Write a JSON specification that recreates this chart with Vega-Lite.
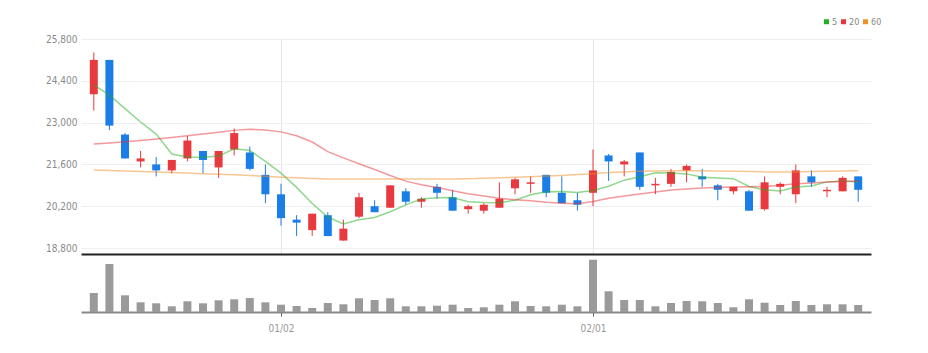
{
  "$schema": "https://vega.github.io/schema/vega-lite/v6.json",
  "padding": {"left": 45, "top": 17, "right": 0, "bottom": 0},
  "spacing": 3,
  "config": {
    "view": {"stroke": null},
    "font": "Liberation Sans Narrow, DejaVu Sans Condensed, sans-serif"
  },
  "datasets": {
    "stock": [
      {"i": 0, "date": "12/14", "open": 23950, "high": 25350, "low": 23400, "close": 25100, "volume": 380000, "ma5": 24260, "ma20": 22284, "ma60": 21413},
      {"i": 1, "date": "12/15", "open": 25100, "high": 25100, "low": 22750, "close": 22900, "volume": 960000, "ma5": 23920, "ma20": 22320, "ma60": 21395},
      {"i": 2, "date": "12/16", "open": 22600, "high": 22650, "low": 21800, "close": 21800, "volume": 334000, "ma5": 23470, "ma20": 22360, "ma60": 21380},
      {"i": 3, "date": "12/19", "open": 21700, "high": 22050, "low": 21500, "close": 21800, "volume": 194000, "ma5": 23020, "ma20": 22400, "ma60": 21365},
      {"i": 4, "date": "12/20", "open": 21600, "high": 21850, "low": 21200, "close": 21400, "volume": 174000, "ma5": 22617, "ma20": 22450, "ma60": 21350},
      {"i": 5, "date": "12/21", "open": 21400, "high": 21750, "low": 21300, "close": 21750, "volume": 114000, "ma5": 21947, "ma20": 22500, "ma60": 21330},
      {"i": 6, "date": "12/22", "open": 21800, "high": 22550, "low": 21700, "close": 22400, "volume": 214000, "ma5": 21846, "ma20": 22560, "ma60": 21310},
      {"i": 7, "date": "12/23", "open": 22050, "high": 22050, "low": 21300, "close": 21750, "volume": 174000, "ma5": 21838, "ma20": 22620, "ma60": 21290},
      {"i": 8, "date": "12/26", "open": 21500, "high": 22050, "low": 21150, "close": 22050, "volume": 234000, "ma5": 21880, "ma20": 22680, "ma60": 21270},
      {"i": 9, "date": "12/27", "open": 22100, "high": 22800, "low": 21900, "close": 22650, "volume": 254000, "ma5": 22126, "ma20": 22740, "ma60": 21250},
      {"i": 10, "date": "12/28", "open": 22000, "high": 22200, "low": 21400, "close": 21450, "volume": 280000, "ma5": 22065, "ma20": 22776, "ma60": 21230},
      {"i": 11, "date": "12/29", "open": 21250, "high": 21600, "low": 20300, "close": 20600, "volume": 194000, "ma5": 21704, "ma20": 22750, "ma60": 21200},
      {"i": 12, "date": "01/02", "open": 20600, "high": 20950, "low": 19550, "close": 19800, "volume": 146000, "ma5": 21310, "ma20": 22690, "ma60": 21170},
      {"i": 13, "date": "01/03", "open": 19750, "high": 19900, "low": 19200, "close": 19650, "volume": 120000, "ma5": 20831, "ma20": 22560, "ma60": 21150},
      {"i": 14, "date": "01/04", "open": 19400, "high": 19950, "low": 19200, "close": 19950, "volume": 80000, "ma5": 20290, "ma20": 22350, "ma60": 21130},
      {"i": 15, "date": "01/05", "open": 19900, "high": 20000, "low": 19200, "close": 19200, "volume": 180000, "ma5": 19839, "ma20": 22030, "ma60": 21115},
      {"i": 16, "date": "01/06", "open": 19050, "high": 19750, "low": 19050, "close": 19450, "volume": 154000, "ma5": 19609, "ma20": 21820, "ma60": 21110},
      {"i": 17, "date": "01/09", "open": 19850, "high": 20650, "low": 19800, "close": 20500, "volume": 274000, "ma5": 19745, "ma20": 21620, "ma60": 21110},
      {"i": 18, "date": "01/10", "open": 20200, "high": 20400, "low": 20000, "close": 20000, "volume": 240000, "ma5": 19823, "ma20": 21430, "ma60": 21110},
      {"i": 19, "date": "01/11", "open": 20150, "high": 20900, "low": 20150, "close": 20900, "volume": 274000, "ma5": 20017, "ma20": 21230, "ma60": 21110},
      {"i": 20, "date": "01/12", "open": 20700, "high": 20800, "low": 20250, "close": 20350, "volume": 114000, "ma5": 20244, "ma20": 21040, "ma60": 21110},
      {"i": 21, "date": "01/13", "open": 20350, "high": 20500, "low": 20150, "close": 20450, "volume": 114000, "ma5": 20445, "ma20": 20920, "ma60": 21110},
      {"i": 22, "date": "01/16", "open": 20850, "high": 20950, "low": 20450, "close": 20650, "volume": 126000, "ma5": 20482, "ma20": 20830, "ma60": 21110},
      {"i": 23, "date": "01/17", "open": 20500, "high": 20750, "low": 20050, "close": 20050, "volume": 146000, "ma5": 20493, "ma20": 20720, "ma60": 21115},
      {"i": 24, "date": "01/18", "open": 20100, "high": 20250, "low": 19950, "close": 20200, "volume": 80000, "ma5": 20348, "ma20": 20620, "ma60": 21120},
      {"i": 25, "date": "01/19", "open": 20050, "high": 20300, "low": 19950, "close": 20250, "volume": 94000, "ma5": 20326, "ma20": 20540, "ma60": 21135},
      {"i": 26, "date": "01/20", "open": 20150, "high": 21000, "low": 20150, "close": 20450, "volume": 146000, "ma5": 20319, "ma20": 20465, "ma60": 21150},
      {"i": 27, "date": "01/25", "open": 20800, "high": 21150, "low": 20600, "close": 21100, "volume": 214000, "ma5": 20402, "ma20": 20420, "ma60": 21170},
      {"i": 28, "date": "01/26", "open": 20950, "high": 21200, "low": 20650, "close": 21000, "volume": 120000, "ma5": 20585, "ma20": 20380, "ma60": 21190},
      {"i": 29, "date": "01/27", "open": 21250, "high": 21250, "low": 20500, "close": 20650, "volume": 114000, "ma5": 20681, "ma20": 20330, "ma60": 21210},
      {"i": 30, "date": "01/30", "open": 20650, "high": 21200, "low": 20300, "close": 20300, "volume": 146000, "ma5": 20692, "ma20": 20300, "ma60": 21230},
      {"i": 31, "date": "01/31", "open": 20400, "high": 20650, "low": 20050, "close": 20250, "volume": 114000, "ma5": 20661, "ma20": 20280, "ma60": 21260},
      {"i": 32, "date": "02/01", "open": 20650, "high": 22100, "low": 20200, "close": 21400, "volume": 1046000, "ma5": 20728, "ma20": 20360, "ma60": 21290},
      {"i": 33, "date": "02/02", "open": 21900, "high": 21950, "low": 21050, "close": 21700, "volume": 414000, "ma5": 20868, "ma20": 20470, "ma60": 21330},
      {"i": 34, "date": "02/03", "open": 21600, "high": 21750, "low": 21200, "close": 21700, "volume": 240000, "ma5": 21073, "ma20": 20540, "ma60": 21350},
      {"i": 35, "date": "02/06", "open": 22000, "high": 22000, "low": 20750, "close": 20850, "volume": 240000, "ma5": 21185, "ma20": 20610, "ma60": 21370},
      {"i": 36, "date": "02/07", "open": 20900, "high": 21150, "low": 20600, "close": 20950, "volume": 114000, "ma5": 21323, "ma20": 20680, "ma60": 21380},
      {"i": 37, "date": "02/08", "open": 20950, "high": 21450, "low": 20850, "close": 21350, "volume": 180000, "ma5": 21312, "ma20": 20740, "ma60": 21390},
      {"i": 38, "date": "02/09", "open": 21400, "high": 21600, "low": 21000, "close": 21550, "volume": 220000, "ma5": 21283, "ma20": 20780, "ma60": 21390},
      {"i": 39, "date": "02/10", "open": 21200, "high": 21450, "low": 20850, "close": 21100, "volume": 214000, "ma5": 21167, "ma20": 20810, "ma60": 21385},
      {"i": 40, "date": "02/13", "open": 20900, "high": 20950, "low": 20400, "close": 20750, "volume": 180000, "ma5": 21145, "ma20": 20830, "ma60": 21380},
      {"i": 41, "date": "02/14", "open": 20700, "high": 20850, "low": 20600, "close": 20850, "volume": 94000, "ma5": 21122, "ma20": 20840, "ma60": 21370},
      {"i": 42, "date": "02/15", "open": 20700, "high": 20750, "low": 20050, "close": 20050, "volume": 254000, "ma5": 20861, "ma20": 20850, "ma60": 21360},
      {"i": 43, "date": "02/16", "open": 20100, "high": 21200, "low": 20050, "close": 21000, "volume": 186000, "ma5": 20749, "ma20": 20860, "ma60": 21350},
      {"i": 44, "date": "02/17", "open": 20850, "high": 21000, "low": 20600, "close": 20950, "volume": 140000, "ma5": 20714, "ma20": 20900, "ma60": 21345},
      {"i": 45, "date": "02/20", "open": 20600, "high": 21600, "low": 20300, "close": 21400, "volume": 220000, "ma5": 20843, "ma20": 20950, "ma60": 21350},
      {"i": 46, "date": "02/21", "open": 21200, "high": 21400, "low": 20850, "close": 21000, "volume": 140000, "ma5": 20876, "ma20": 20980, "ma60": 21360},
      {"i": 47, "date": "02/22", "open": 20700, "high": 20850, "low": 20500, "close": 20750, "volume": 154000, "ma5": 21015, "ma20": 21010, "ma60": 21370},
      {"i": 48, "date": "02/23", "open": 20700, "high": 21200, "low": 20700, "close": 21150, "volume": 154000, "ma5": 21048, "ma20": 21030, "ma60": 21380},
      {"i": 49, "date": "02/24", "open": 21200, "high": 21200, "low": 20350, "close": 20750, "volume": 140000, "ma5": 21010, "ma20": 21045, "ma60": 21385}
    ]
  },
  "vconcat": [
    {
      "width": 790,
      "height": 215,
      "data": {"name": "stock"},
      "encoding": {
        "x": {
          "field": "i",
          "type": "quantitative",
          "scale": {"domain": [-0.5, 49.5], "nice": false, "zero": false},
          "axis": {
            "values": [12, 32],
            "labels": false,
            "ticks": false,
            "grid": true,
            "gridColor": "#e6e6e6",
            "domainColor": "#222222",
            "domainWidth": 2,
            "title": null
          }
        }
      },
      "layer": [
        {
          "mark": {"type": "rule", "strokeWidth": 1},
          "encoding": {
            "y": {
              "field": "low",
              "type": "quantitative",
              "scale": {"domain": [18600, 25800], "nice": false, "zero": false},
              "axis": {
                "values": [18800, 20200, 21600, 23000, 24400, 25800],
                "format": ",d",
                "title": null,
                "domain": false,
                "ticks": false,
                "labelColor": "#8a8a8a",
                "labelFontSize": 10,
                "labelPadding": 4,
                "gridColor": "#efefef"
              }
            },
            "y2": {"field": "high"},
            "color": {
              "condition": {"test": "datum.close >= datum.open", "value": "#e8393e"},
              "value": "#1b7ee6"
            }
          }
        },
        {
          "mark": {"type": "bar", "size": 8},
          "encoding": {
            "y": {
              "field": "open",
              "type": "quantitative",
              "scale": {"domain": [18600, 25800], "nice": false, "zero": false},
              "axis": {
                "values": [18800, 20200, 21600, 23000, 24400, 25800],
                "format": ",d",
                "title": null,
                "domain": false,
                "ticks": false,
                "labelColor": "#8a8a8a",
                "labelFontSize": 10,
                "labelPadding": 4,
                "gridColor": "#efefef"
              }
            },
            "y2": {"field": "close"},
            "color": {
              "condition": {"test": "datum.close >= datum.open", "value": "#e8393e"},
              "value": "#1b7ee6"
            }
          }
        },
        {
          "transform": [{"fold": ["ma5", "ma20", "ma60"], "as": ["ma", "value"]}],
          "mark": {"type": "line", "strokeWidth": 1.5, "opacity": 0.5, "interpolate": "linear"},
          "encoding": {
            "y": {
              "field": "value",
              "type": "quantitative",
              "scale": {"domain": [18600, 25800], "nice": false, "zero": false},
              "axis": {
                "values": [18800, 20200, 21600, 23000, 24400, 25800],
                "format": ",d",
                "title": null,
                "domain": false,
                "ticks": false,
                "labelColor": "#8a8a8a",
                "labelFontSize": 10,
                "labelPadding": 4,
                "gridColor": "#efefef"
              }
            },
            "color": {
              "field": "ma",
              "type": "nominal",
              "scale": {"domain": ["ma5", "ma20", "ma60"], "range": ["#22b022", "#e8343a", "#f0902a"]},
              "legend": {
                "orient": "none",
                "legendX": 741,
                "legendY": -22,
                "direction": "horizontal",
                "title": null,
                "symbolType": "square",
                "symbolSize": 25,
                "symbolStrokeWidth": 0,
                "symbolOpacity": 1,
                "labelFontSize": 9,
                "labelColor": "#888888",
                "columnPadding": 1,
                "labelOffset": 1,
                "labelExpr": "replace(datum.label, 'ma', '')",
                "encode": {
                  "symbols": {
                    "update": {
                      "fill": {"scale": "color", "field": "value"},
                      "opacity": {"value": 1}
                    }
                  }
                }
              }
            }
          }
        }
      ]
    },
    {
      "width": 790,
      "height": 55,
      "data": {"name": "stock"},
      "mark": {"type": "bar", "size": 8, "color": "#9a9a9a"},
      "encoding": {
        "x": {
          "field": "i",
          "type": "quantitative",
          "scale": {"domain": [-0.5, 49.5], "nice": false, "zero": false},
          "axis": {
            "values": [12, 32],
            "labelExpr": "datum.value == 12 ? '01/02' : datum.value == 32 ? '02/01' : ''",
            "tickSize": 4,
            "tickColor": "#555555",
            "domainColor": "#888888",
            "domainWidth": 2,
            "labelColor": "#999999",
            "labelFontSize": 10,
            "labelPadding": 7,
            "grid": false,
            "title": null
          }
        },
        "y": {
          "field": "volume",
          "type": "quantitative",
          "scale": {"domain": [0, 1100000], "nice": false},
          "axis": null
        }
      }
    }
  ]
}
